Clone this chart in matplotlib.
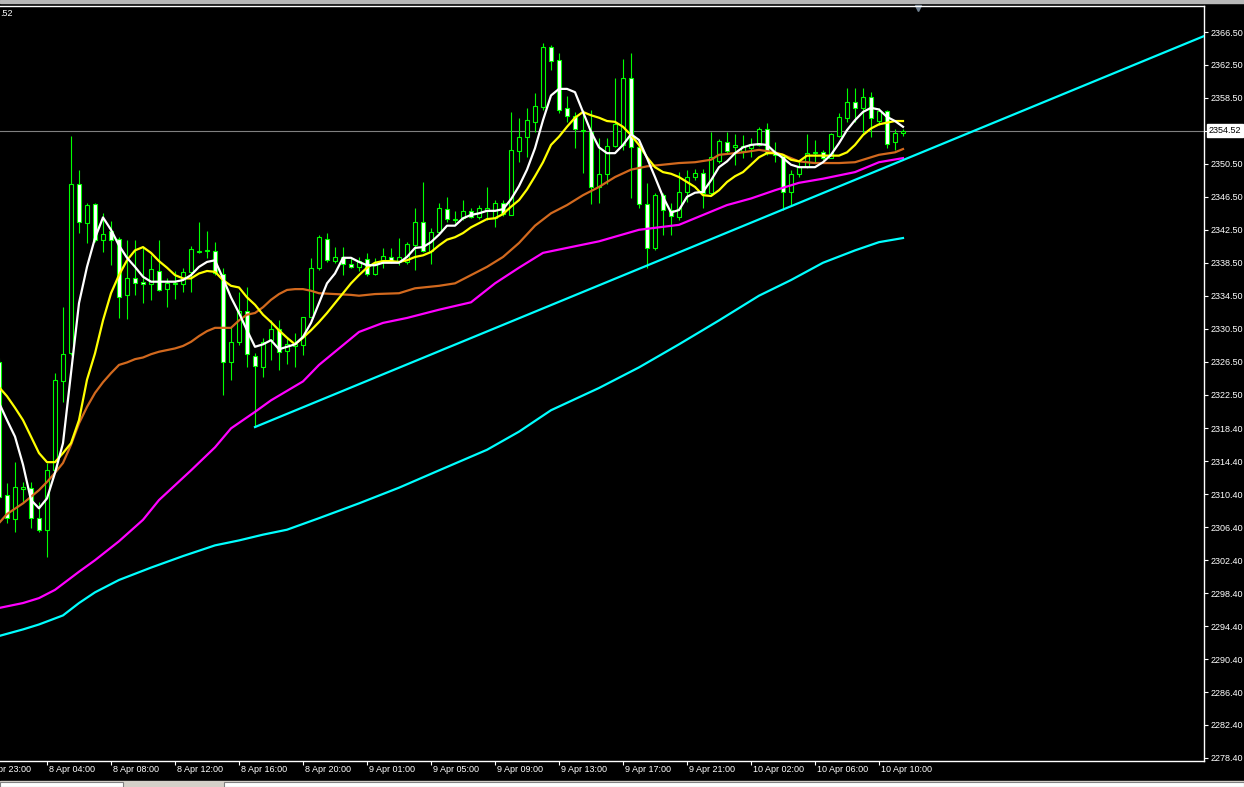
import numpy as np
import matplotlib
matplotlib.use("Agg")
import matplotlib.pyplot as plt
from matplotlib.patches import Rectangle
from matplotlib.transforms import blended_transform_factory

# XAUUSD M30 candles (bar 0 = left edge)
opens = [2326.45, 2310.31, 2307.39, 2311.04, 2311.16, 2307.52, 2306.06, 2313.34, 2324.14, 2327.54,
         2348.05, 2343.32, 2345.62, 2341.25, 2342.35, 2341.38, 2334.58, 2336.64, 2336.16, 2335.91,
         2337.49, 2335.31, 2335.91, 2335.91, 2337.37, 2339.80, 2339.92, 2339.92, 2337.13, 2326.45,
         2328.88, 2332.64, 2327.18, 2325.84, 2329.12, 2330.45, 2327.78, 2328.39, 2328.51, 2331.91,
         2337.86, 2341.38, 2338.71, 2339.19, 2338.34, 2337.98, 2338.95, 2337.13, 2338.58, 2339.19,
         2338.58, 2338.58, 2340.65, 2343.44, 2339.92, 2342.22, 2345.02, 2343.68, 2343.92, 2344.77,
         2344.05, 2344.77, 2343.92, 2345.74, 2344.29, 2352.05, 2353.75, 2355.57, 2357.39, 2364.68,
         2363.10, 2357.27, 2356.30, 2354.48, 2354.36, 2347.69, 2349.26, 2352.66, 2352.78, 2360.91,
         2352.54, 2345.62, 2340.28, 2346.72, 2344.89, 2344.05, 2347.08, 2348.90, 2349.39, 2346.96,
         2350.84, 2353.15, 2352.54, 2352.05, 2352.42, 2352.78, 2354.73, 2351.81, 2351.45, 2347.08,
         2349.26, 2350.11, 2351.81, 2351.93, 2351.20, 2353.88, 2356.06, 2358.00, 2357.27, 2358.61,
         2355.70, 2356.91, 2353.15, 2354.24]
highs = [2326.90, 2311.76, 2314.31, 2311.88, 2311.88, 2309.46, 2314.19, 2325.11, 2333.12, 2353.88,
         2349.75, 2345.74, 2345.74, 2344.53, 2343.56, 2341.62, 2341.25, 2341.25, 2340.40, 2339.43,
         2341.25, 2336.64, 2337.49, 2337.86, 2340.53, 2343.44, 2342.35, 2341.01, 2337.86, 2330.70,
         2334.94, 2335.55, 2327.54, 2329.36, 2331.55, 2331.55, 2329.48, 2329.97, 2331.91, 2339.07,
         2341.86, 2342.10, 2340.40, 2340.40, 2339.19, 2339.19, 2339.68, 2339.07, 2340.28, 2340.28,
         2341.50, 2341.01, 2345.14, 2348.29, 2342.71, 2345.74, 2346.47, 2344.77, 2346.11, 2345.14,
         2345.50, 2347.69, 2346.11, 2346.11, 2356.79, 2356.06, 2357.27, 2359.09, 2365.16, 2364.92,
         2363.95, 2358.73, 2356.79, 2357.03, 2357.03, 2353.63, 2353.63, 2360.91, 2363.22, 2363.95,
         2352.78, 2348.17, 2346.96, 2346.96, 2345.74, 2349.51, 2349.75, 2349.87, 2349.87, 2354.36,
         2353.51, 2354.36, 2354.12, 2354.00, 2353.63, 2354.97, 2355.45, 2353.15, 2351.57, 2349.75,
         2350.72, 2354.12, 2353.39, 2352.18, 2354.24, 2356.67, 2359.70, 2359.70, 2359.70, 2359.22,
         2357.27, 2357.03, 2354.73, 2354.73]
lows = [2309.70, 2306.91, 2305.82, 2309.34, 2306.30, 2305.82, 2302.78, 2313.10, 2321.59, 2327.30,
        2342.10, 2340.89, 2341.01, 2339.80, 2338.22, 2331.79, 2331.67, 2334.58, 2333.61, 2333.97,
        2335.06, 2333.12, 2334.09, 2334.94, 2334.94, 2339.68, 2339.07, 2337.01, 2322.44, 2324.26,
        2328.51, 2325.84, 2318.56, 2324.63, 2326.69, 2325.48, 2326.21, 2325.84, 2327.30, 2331.91,
        2337.61, 2338.58, 2338.46, 2337.01, 2337.86, 2337.49, 2336.88, 2337.01, 2337.86, 2338.46,
        2338.22, 2338.34, 2337.61, 2339.80, 2338.34, 2342.10, 2343.44, 2343.32, 2343.68, 2343.92,
        2343.80, 2343.68, 2342.83, 2344.17, 2344.29, 2350.72, 2351.33, 2354.36, 2357.03, 2361.89,
        2356.67, 2355.57, 2352.42, 2349.39, 2345.62, 2345.74, 2348.05, 2352.54, 2352.18, 2346.35,
        2345.14, 2337.86, 2340.04, 2341.86, 2341.86, 2343.68, 2345.87, 2348.53, 2345.14, 2346.72,
        2350.60, 2351.69, 2350.36, 2351.20, 2351.33, 2352.66, 2351.57, 2350.72, 2344.89, 2345.38,
        2348.90, 2349.99, 2350.60, 2350.96, 2351.20, 2353.75, 2355.57, 2355.57, 2354.24, 2353.75,
        2355.21, 2352.42, 2352.18, 2353.88]
closes = [2310.06, 2307.52, 2311.28, 2311.28, 2307.52, 2306.06, 2313.34, 2324.26, 2327.42, 2348.05,
          2343.44, 2345.50, 2341.25, 2341.98, 2341.25, 2334.34, 2336.64, 2336.04, 2335.91, 2337.73,
          2335.19, 2336.04, 2336.04, 2337.37, 2340.16, 2339.92, 2340.04, 2337.25, 2326.45, 2328.88,
          2332.64, 2327.42, 2325.96, 2328.88, 2330.45, 2327.66, 2328.63, 2328.63, 2331.91, 2337.86,
          2341.62, 2338.83, 2339.19, 2338.34, 2337.98, 2338.71, 2337.13, 2338.46, 2339.31, 2338.71,
          2339.19, 2340.77, 2343.44, 2339.92, 2342.22, 2345.14, 2343.80, 2343.80, 2344.77, 2344.05,
          2345.14, 2345.14, 2345.74, 2344.41, 2352.18, 2353.75, 2355.82, 2357.52, 2364.68, 2362.98,
          2357.03, 2356.30, 2354.73, 2354.60, 2347.69, 2349.26, 2352.66, 2355.33, 2360.91, 2352.54,
          2345.62, 2340.28, 2346.72, 2344.89, 2344.17, 2347.08, 2348.90, 2349.39, 2346.96, 2351.33,
          2353.27, 2352.05, 2352.78, 2352.66, 2352.90, 2354.73, 2351.81, 2351.57, 2347.08, 2349.26,
          2350.11, 2351.81, 2351.93, 2351.20, 2354.12, 2356.18, 2358.00, 2357.27, 2358.61, 2356.06,
          2356.91, 2352.90, 2354.24, 2354.52]

# moving averages
ma_fast = [2321.5, 2319.4, 2317.4, 2314.0, 2309.7, 2308.7, 2309.9, 2313.0, 2316.6, 2325.1,
           2333.6, 2338.0, 2341.5, 2344.0, 2342.5, 2340.6, 2339.1, 2338.0, 2336.8, 2336.2,
           2336.2, 2336.2, 2336.2, 2336.4, 2337.0, 2338.0, 2338.6, 2338.8, 2336.6, 2334.3,
           2332.4, 2330.3, 2328.3, 2328.6, 2329.1, 2328.0, 2328.3, 2328.6, 2329.5, 2331.2,
           2333.6, 2336.0, 2337.2, 2339.1, 2339.1, 2338.6, 2338.2, 2338.2, 2338.5, 2338.5,
           2338.5, 2339.2, 2340.3, 2340.4, 2341.0, 2341.9, 2343.0, 2343.0, 2343.9, 2344.3,
           2344.5, 2344.8, 2344.8, 2345.0, 2346.2, 2347.8, 2349.8, 2352.4, 2355.8, 2358.8,
           2359.6, 2359.6, 2359.2, 2356.8, 2354.4, 2352.5, 2351.8, 2351.8, 2352.8, 2354.1,
           2353.4, 2351.2, 2348.9, 2346.5, 2344.6, 2344.9, 2346.5, 2347.0, 2347.1, 2348.5,
           2350.1, 2350.8, 2351.8, 2352.5, 2352.8, 2352.9, 2352.8, 2351.9, 2351.2, 2350.4,
           2350.1, 2350.1, 2350.1, 2350.7, 2351.6, 2353.0, 2354.6, 2355.8, 2356.8, 2357.3,
           2357.1, 2356.2, 2355.7, 2355.0]
ma_yellow = [2323.4, 2322.3, 2320.9, 2319.4, 2317.4, 2315.4, 2314.3, 2314.3, 2315.4, 2316.6,
             2319.4, 2324.3, 2327.5, 2331.5, 2334.8, 2337.0, 2338.8, 2340.0, 2340.4, 2339.7,
             2338.7, 2337.9, 2337.0, 2336.6, 2336.6, 2337.2, 2337.5, 2337.4, 2336.4, 2335.7,
             2335.5, 2334.3, 2333.4, 2332.2, 2331.3, 2330.3, 2329.4, 2328.6, 2329.4, 2330.3,
             2331.3, 2332.4, 2333.6, 2334.8, 2336.0, 2337.0, 2337.9, 2338.5, 2338.7, 2338.7,
             2338.6, 2338.8, 2339.2, 2339.4, 2339.8, 2340.6, 2341.3, 2341.6, 2342.1, 2342.8,
             2343.3, 2343.8, 2343.9, 2344.4, 2345.3, 2346.1, 2347.4, 2349.0, 2350.7, 2352.8,
             2353.8, 2355.0, 2356.1, 2356.8, 2356.4, 2356.1, 2355.7, 2355.6, 2355.0, 2354.0,
             2352.8, 2351.3, 2350.1, 2349.5, 2349.3, 2348.9, 2348.3, 2347.7, 2346.7, 2346.6,
             2347.3, 2348.3, 2349.0, 2349.5, 2350.4, 2351.3, 2351.8, 2351.8, 2351.6, 2351.0,
             2350.8, 2351.5, 2351.5, 2351.5, 2351.5, 2351.5, 2351.9, 2352.8, 2354.0, 2354.8,
             2355.3, 2355.5, 2355.7, 2355.7]

orange_bars = [0, 1, 3, 4, 5, 6, 7, 8, 9, 10, 11, 12, 13, 14, 15, 16, 17, 18, 19, 20,
               22, 23, 24, 25, 26, 27, 28, 29, 30, 31, 32, 33, 34, 35, 36, 37, 38, 39, 40, 42,
               44, 45, 47, 50, 52, 55, 57, 59, 61, 63, 65, 67, 69, 71, 73, 75, 77, 79, 81, 83,
               85, 87, 89, 90, 93, 95, 97, 98, 100, 102, 105, 107, 108, 110, 112, 113]
ma_orange = [2306.9, 2308.0, 2309.3, 2310.1, 2310.9, 2311.9, 2313.0, 2314.2, 2316.4, 2319.0,
             2321.0, 2322.7, 2324.0, 2325.1, 2326.1, 2326.4, 2326.8, 2327.0, 2327.4, 2327.7,
             2328.1, 2328.4, 2328.9, 2329.6, 2330.2, 2330.6, 2330.6, 2330.6, 2331.5, 2332.2,
             2332.4, 2333.1, 2334.0, 2334.7, 2335.2, 2335.3, 2335.3, 2335.1, 2334.8, 2334.7,
             2334.6, 2334.5, 2334.7, 2334.8, 2335.4, 2335.7, 2336.0, 2337.0, 2338.0, 2339.2,
             2340.9, 2343.0, 2344.5, 2345.5, 2346.7, 2347.7, 2348.9, 2349.8, 2350.2, 2350.4,
             2350.6, 2350.7, 2351.0, 2351.6, 2351.9, 2352.2, 2351.9, 2351.6, 2350.8, 2350.6,
             2350.6, 2350.7, 2351.0, 2351.6, 2351.9, 2352.3]

magenta_bars = [0, 3, 5, 7, 10, 12, 15, 18, 20, 24, 27, 29, 32, 34, 38, 40, 43, 45, 48, 51,
                55, 59, 62, 65, 68, 71, 75, 80, 85, 88, 91, 94, 97, 100, 103, 107, 110, 113]
ma_magenta = [2296.6, 2297.2, 2297.8, 2298.8, 2301.0, 2302.4, 2304.7, 2307.3, 2309.7, 2313.3,
              2316.1, 2318.4, 2320.4, 2321.8, 2324.1, 2326.1, 2328.5, 2330.1, 2331.2, 2331.8,
              2332.8, 2333.7, 2336.0, 2337.9, 2339.7, 2340.3, 2341.1, 2342.5, 2343.1, 2344.3,
              2345.5, 2346.3, 2347.3, 2348.2, 2348.7, 2349.5, 2350.7, 2351.2]

cyan_bars = [0, 3, 5, 8, 10, 12, 15, 19, 23, 27, 30, 33, 36, 40, 45, 50, 55, 61, 65, 69,
             75, 80, 85, 90, 95, 99, 103, 107, 110, 113]
ma_cyan = [2293.2, 2294.0, 2294.6, 2295.7, 2297.2, 2298.5, 2300.0, 2301.5, 2302.9, 2304.2,
           2304.8, 2305.5, 2306.1, 2307.5, 2309.3, 2311.2, 2313.3, 2315.8, 2318.0, 2320.6,
           2323.3, 2325.8, 2328.6, 2331.5, 2334.5, 2336.4, 2338.5, 2340.0, 2341.0, 2341.5]

# trend line (ray) from the 8 Apr 16:00 low to the right edge
trend_bars = [32, 150.6]
trend_prices = [2318.56, 2366.0]

current_price = 2354.52

ytick_values = [2366.50, 2362.50, 2358.50, 2354.50, 2350.50, 2346.50, 2342.50, 2338.50,
                2334.50, 2330.50, 2326.50, 2322.50, 2318.40, 2314.40, 2310.40, 2306.40,
                2302.40, 2298.40, 2294.40, 2290.40, 2286.40, 2282.40, 2278.40]
time_bars = [-2, 6, 14, 22, 30, 38, 46, 54, 62, 70, 78, 86, 94, 102, 110]
time_labels = ["7 Apr 23:00", "8 Apr 04:00", "8 Apr 08:00", "8 Apr 12:00", "8 Apr 16:00",
               "8 Apr 20:00", "9 Apr 01:00", "9 Apr 05:00", "9 Apr 09:00", "9 Apr 13:00",
               "9 Apr 17:00", "9 Apr 21:00", "10 Apr 02:00", "10 Apr 06:00", "10 Apr 10:00"]

plt.rcParams['font.family'] = ['Liberation Sans', 'DejaVu Sans']

W, H = 1244, 787
fig = plt.figure(figsize=(W / 100, H / 100), dpi=100, facecolor='black')
ax = fig.add_axes([0, 26 / H, 1204 / W, 755 / H])
ax.set_facecolor('black')

x = np.arange(len(closes))
o = np.array(opens)
c = np.array(closes)
green = '#00ff00'

# candles: wicks, then bodies (bull = hollow, bear = white)
ax.vlines(x, lows, highs, color=green, lw=0.8, zorder=2)
face = np.where(c >= o, 'black', 'white')
body = np.where(np.abs(c - o) < 0.05, 0.05, c - o)
ax.bar(x, body, bottom=o, width=0.5, color=face, edgecolor=green, linewidth=0.8, zorder=3)

# moving averages and trend line
ax.plot(cyan_bars, ma_cyan, color='#00ffff', lw=1.6, zorder=4)
ax.plot(magenta_bars, ma_magenta, color='#ff00ff', lw=1.6, zorder=4)
ax.plot(orange_bars, ma_orange, color='#d2691e', lw=1.6, zorder=4)
ax.plot(x, ma_yellow, color='#ffff00', lw=1.6, zorder=5)
ax.plot(x, ma_fast, color='white', lw=1.6, zorder=6)
ax.plot(trend_bars, trend_prices, color='#00ffff', lw=1.6, zorder=4, clip_on=True)

ax.axhline(current_price, color='#808080', lw=0.8, zorder=1)

ax.set_xlim(0.125, 150.625)
ax.set_ylim(2278.03, 2369.66)

for s in ['top', 'right', 'bottom']:
    ax.spines[s].set_color('white')
    ax.spines[s].set_linewidth(1.0)
ax.spines['left'].set_visible(False)

# price axis on the right
ax.yaxis.tick_right()
ax.set_yticks(ytick_values, labels=[f"{v:.2f}" for v in ytick_values])
ax.tick_params(axis='y', colors='white', length=3, width=0.8, pad=2, labelsize=6.5)

# time axis: tick marks plus left-aligned labels
ax.set_xticks([b for b in time_bars if b > 0], labels=[])
ax.tick_params(axis='x', colors='white', length=3, width=0.8)
for b, lab in zip(time_bars, time_labels):
    ax.annotate(lab, xy=(b, 0), xycoords=('data', 'axes fraction'), xytext=(2, -4),
                textcoords='offset pixels', ha='left', va='top', color='white',
                fontsize=6.5, annotation_clip=False)

# current price tag
ax.annotate(f"{current_price:.2f}", xy=(1, current_price), xycoords=('axes fraction', 'data'),
            xytext=(5, 0), textcoords='offset pixels', ha='left', va='center',
            color='black', fontsize=6.5, annotation_clip=False,
            bbox=dict(boxstyle='square,pad=0.2', fc='white', ec='white'))

# chart shift marker
tr = blended_transform_factory(ax.transData, ax.transAxes)
ax.plot([114.9], [0.997], marker='v', ms=5, color='#708090', transform=tr, clip_on=False)

fig.text(0.0, 1 - 14 / H, ".52", color='white', fontsize=6.5, ha='left', va='center')

# window frame bits
fig.patches.append(Rectangle((0, 1 - 3 / H), 1, 3 / H, transform=fig.transFigure,
                             color='#b8b8b8', zorder=0))
fig.patches.append(Rectangle((0, 0), 1, 6 / H, transform=fig.transFigure,
                             color='#d4d0c8', zorder=0))
fig.patches.append(Rectangle((0, 0), 123 / W, 5 / H, transform=fig.transFigure,
                             fc='white', ec='#808080', lw=0.8, zorder=1))
fig.patches.append(Rectangle((224 / W, 0), 1 - 224 / W, 5 / H, transform=fig.transFigure,
                             fc='white', ec='#808080', lw=0.8, zorder=1))

fig.savefig('out.png', dpi=100, facecolor='black')
